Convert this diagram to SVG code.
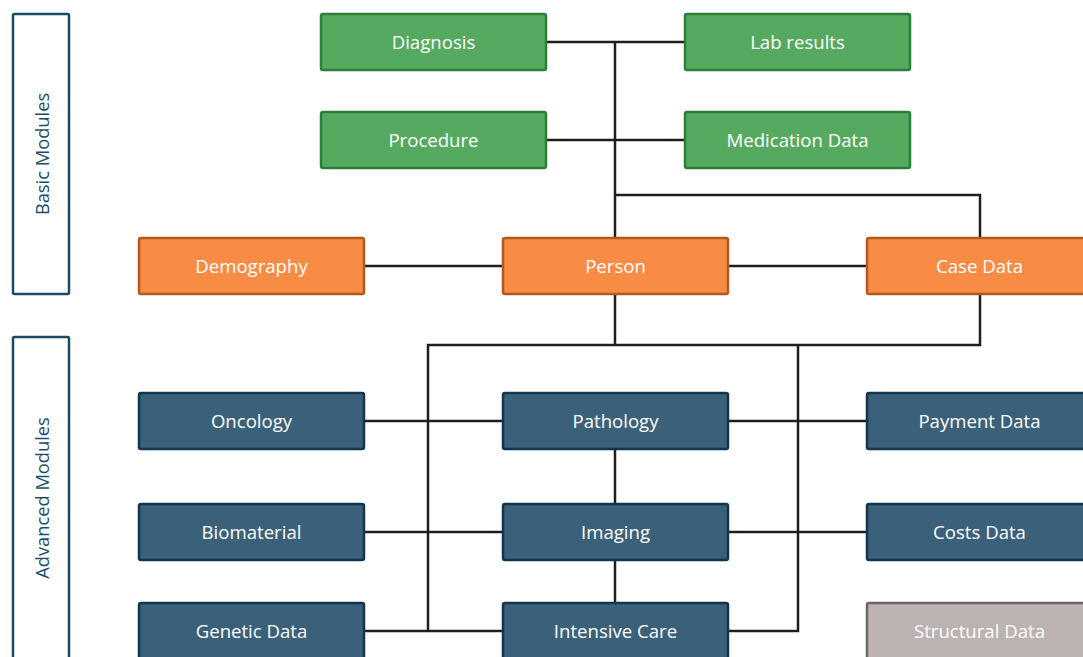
<svg xmlns="http://www.w3.org/2000/svg" width="1083" height="657" viewBox="0 0 1083 657">
  <style>
    .node rect { stroke-width: 2.5; }
    .basic rect { fill: #55aa60; stroke: #2f7d3a; }
    .core rect { fill: #f98c44; stroke: #b05a1e; }
    .adv rect { fill: #3a6179; stroke: #103650; }
    .struct rect { fill: #bcb2b1; stroke: #6a6666; }
    .node text { fill: #ffffff; font-family: "Open Sans", "Noto Sans", sans-serif; font-size: 18.6px; text-anchor: middle; dominant-baseline: central; }
    .group rect { fill: #ffffff; stroke: #194b66; stroke-width: 2.5; }
    .group text { fill: #1b4d6b; font-family: "Open Sans", "Noto Sans", sans-serif; font-size: 18.3px; text-anchor: middle; dominant-baseline: central; }
    .links path { fill: none; stroke: #1e1e1e; stroke-width: 2.5; }
  </style>

  <rect width="1083" height="657" fill="#ffffff"/>

  <!-- module groups -->
  <g id="group-basic" class="group">
    <rect x="13" y="14" width="56" height="280" rx="1.5"/>
    <text transform="translate(41 154) rotate(-90)">Basic Modules</text>
  </g>
  <g id="group-advanced" class="group">
    <rect x="13" y="337" width="56" height="340" rx="1.5"/>
    <text transform="translate(41 498) rotate(-90)">Advanced Modules</text>
  </g>

  <!-- connectors -->
  <g id="connectors" class="links">
    <path d="M546 42 H685"/>
    <path d="M546 140 H685"/>
    <path d="M615 42 V238"/>
    <path d="M615 195 H980 V238"/>
    <path d="M364 266 H503"/>
    <path d="M728 266 H867"/>
    <path d="M615 294 V345"/>
    <path d="M980 294 V345 H428 V631"/>
    <path d="M798 345 V631 H728"/>
    <path d="M364 421 H503"/>
    <path d="M728 421 H867"/>
    <path d="M364 532 H503"/>
    <path d="M728 532 H867"/>
    <path d="M364 631 H503"/>
    <path d="M615 449 V504"/>
    <path d="M615 561 V602"/>
  </g>

  <!-- basic modules -->
  <g id="node-diagnosis" class="node basic">
    <rect x="321" y="14" width="225" height="56" rx="2"/>
    <text x="433.5" y="41.2">Diagnosis</text>
  </g>
  <g id="node-lab-results" class="node basic">
    <rect x="685" y="14" width="225" height="56" rx="2"/>
    <text x="797.5" y="41.2">Lab results</text>
  </g>
  <g id="node-procedure" class="node basic">
    <rect x="321" y="112" width="225" height="56" rx="2"/>
    <text x="433.5" y="139.2">Procedure</text>
  </g>
  <g id="node-medication" class="node basic">
    <rect x="685" y="112" width="225" height="56" rx="2"/>
    <text x="797.5" y="139.2">Medication Data</text>
  </g>

  <!-- core -->
  <g id="node-demography" class="node core">
    <rect x="139" y="238" width="225" height="56" rx="2"/>
    <text x="251.5" y="265.2">Demography</text>
  </g>
  <g id="node-person" class="node core">
    <rect x="503" y="238" width="225" height="56" rx="2"/>
    <text x="615.5" y="265.2">Person</text>
  </g>
  <g id="node-case-data" class="node core">
    <rect x="867" y="238" width="225" height="56" rx="2"/>
    <text x="979.5" y="265.2">Case Data</text>
  </g>

  <!-- advanced modules -->
  <g id="node-oncology" class="node adv">
    <rect x="139" y="393" width="225" height="56" rx="2"/>
    <text x="251.5" y="420.2">Oncology</text>
  </g>
  <g id="node-pathology" class="node adv">
    <rect x="503" y="393" width="225" height="56" rx="2"/>
    <text x="615.5" y="420.2">Pathology</text>
  </g>
  <g id="node-payment" class="node adv">
    <rect x="867" y="393" width="225" height="56" rx="2"/>
    <text x="979.5" y="420.2">Payment Data</text>
  </g>
  <g id="node-biomaterial" class="node adv">
    <rect x="139" y="504" width="225" height="56" rx="2"/>
    <text x="251.5" y="531.2">Biomaterial</text>
  </g>
  <g id="node-imaging" class="node adv">
    <rect x="503" y="504" width="225" height="56" rx="2"/>
    <text x="615.5" y="531.2">Imaging</text>
  </g>
  <g id="node-costs" class="node adv">
    <rect x="867" y="504" width="225" height="56" rx="2"/>
    <text x="979.5" y="531.2">Costs Data</text>
  </g>
  <g id="node-genetic" class="node adv">
    <rect x="139" y="603" width="225" height="56" rx="2"/>
    <text x="251.5" y="630.2">Genetic Data</text>
  </g>
  <g id="node-intensive-care" class="node adv">
    <rect x="503" y="603" width="225" height="56" rx="2"/>
    <text x="615.5" y="630.2">Intensive Care</text>
  </g>
  <g id="node-structural" class="node struct">
    <rect x="867" y="603" width="225" height="56" rx="2"/>
    <text x="979.5" y="630.2">Structural Data</text>
  </g>
</svg>
